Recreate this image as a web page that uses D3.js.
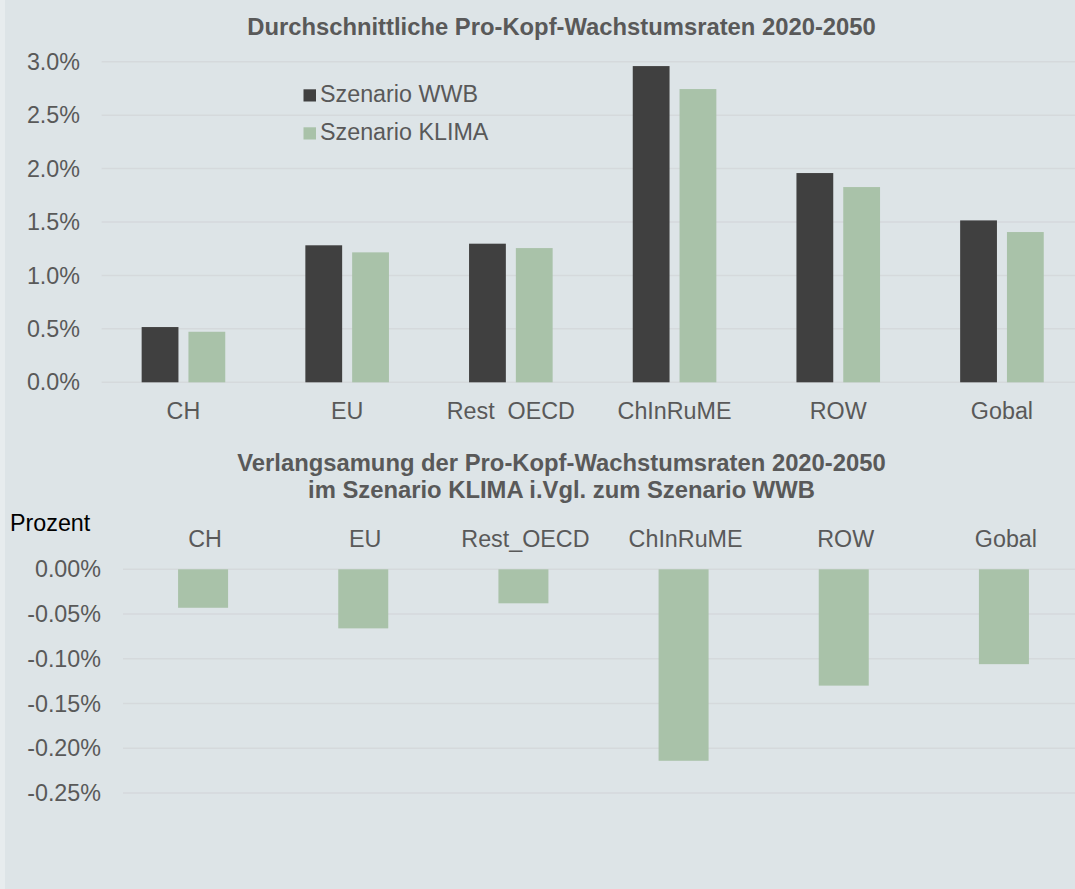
<!DOCTYPE html>
<html>
<head>
<meta charset="utf-8">
<script src="https://cdn.jsdelivr.net/npm/d3@7"></script>
<style>
    body { margin: 0; background: #dde4e7; }
    svg text { font-family: "Liberation Sans", Arial, sans-serif; }
</style>
</head>
<body>
<div id="chartContainer"></div>
<script>
// data
var categories = ['CH', 'EU', 'Rest  OECD', 'ChInRuME', 'ROW', 'Gobal'],
    categoriesBottom = ['CH', 'EU', 'Rest_OECD', 'ChInRuME', 'ROW', 'Gobal'],
    seriesNames = ['Szenario WWB', 'Szenario KLIMA'],
    wwb = [0.517, 1.282, 1.297, 2.959, 1.958, 1.515],
    klima = [0.473, 1.216, 1.256, 2.744, 1.827, 1.406],
    slowdown = [-0.043, -0.066, -0.038, -0.214, -0.130, -0.106],
    topTicks = [0, 0.5, 1.0, 1.5, 2.0, 2.5, 3.0],
    bottomTicks = [0, -0.05, -0.10, -0.15, -0.20, -0.25],
    titleTop = 'Durchschnittliche Pro-Kopf-Wachstumsraten 2020-2050',
    titleBottom = ['Verlangsamung der Pro-Kopf-Wachstumsraten 2020-2050',
                   'im Szenario KLIMA i.Vgl. zum Szenario WWB'],
    yLabelBottom = 'Prozent';

var width = 1075,
    height = 889,
    textColor = '#595959',
    gridColor = '#d5d9dc',
    colors = ['#404040', '#a9c2a9'],
    fontSize = '23.3px',
    titleSize = '23.8px',
    svg = d3.select('#chartContainer').append('svg')
        .attr('width', width)
        .attr('height', height);

svg.append('rect')
    .attr('width', width)
    .attr('height', height)
    .style('fill', '#dde4e7');
svg.append('rect')
    .attr('width', 5)
    .attr('height', height)
    .style('fill', '#e7ecee');

function drawTop() {
    var x = d3.scaleBand().domain(categories).range([101.6, 1083.8]),
        y = d3.scaleLinear().domain([0, 3]).range([382.3, 61.7]),
        barW = 36.8,
        gap = 10,
        g = svg.append('g'),
        rows = categories.map(function (c, i) {
            return { cat: c, vals: [wwb[i], klima[i]] };
        });

    g.selectAll('.grid')
        .data(topTicks)
        .enter()
        .append('line')
        .attr('x1', x.range()[0])
        .attr('x2', width)
        .attr('y1', function (d) { return y(d); })
        .attr('y2', function (d) { return y(d); })
        .style('stroke', gridColor)
        .style('stroke-width', 1.5);

    g.selectAll('.ylab')
        .data(topTicks)
        .enter()
        .append('text')
        .attr('x', 80)
        .attr('y', function (d) { return y(d); })
        .attr('dy', '0.35em')
        .attr('text-anchor', 'end')
        .style('font-size', fontSize)
        .style('fill', textColor)
        .text(function (d) { return d3.format('.1f')(d) + '%'; });

    rows.forEach(function (r) {
        var cx = x(r.cat) + x.bandwidth() / 2;
        r.vals.forEach(function (v, j) {
            var x0 = j === 0 ? cx - gap / 2 - barW : cx + gap / 2;
            g.append('rect')
                .attr('x', x0)
                .attr('width', barW)
                .attr('y', y(v))
                .attr('height', y(0) - y(v))
                .style('fill', colors[j]);
        });
    });

    g.selectAll('.xlab')
        .data(categories)
        .enter()
        .append('text')
        .attr('x', function (d) { return x(d) + x.bandwidth() / 2; })
        .attr('y', 419)
        .attr('text-anchor', 'middle')
        .attr('xml:space', 'preserve')
        .style('white-space', 'pre')
        .style('font-size', fontSize)
        .style('fill', textColor)
        .text(function (d) { return d; });

    svg.append('text')
        .attr('x', 561.5)
        .attr('y', 35)
        .attr('text-anchor', 'middle')
        .style('font-size', titleSize)
        .style('font-weight', 'bold')
        .style('fill', textColor)
        .text(titleTop);

    // legend
    seriesNames.forEach(function (s, i) {
        svg.append('rect')
            .attr('x', 303.5)
            .attr('y', 89.3 + i * 38)
            .attr('width', 12.5)
            .attr('height', 12.2)
            .style('fill', colors[i]);
        svg.append('text')
            .attr('x', 320)
            .attr('y', 102 + i * 38)
            .style('font-size', fontSize)
            .style('fill', textColor)
            .text(s);
    });
}

function drawBottom() {
    var x = d3.scaleBand().domain(categoriesBottom).range([123, 1084]),
        y = d3.scaleLinear().domain([0, -0.25]).range([569.3, 793]),
        barW = 50,
        g = svg.append('g');

    g.selectAll('.grid')
        .data(bottomTicks)
        .enter()
        .append('line')
        .attr('x1', x.range()[0])
        .attr('x2', width)
        .attr('y1', function (d) { return y(d); })
        .attr('y2', function (d) { return y(d); })
        .style('stroke', gridColor)
        .style('stroke-width', 1.5);

    g.selectAll('.ylab')
        .data(bottomTicks)
        .enter()
        .append('text')
        .attr('x', 101)
        .attr('y', function (d) { return y(d); })
        .attr('dy', '0.35em')
        .attr('text-anchor', 'end')
        .style('font-size', fontSize)
        .style('fill', textColor)
        .text(function (d) { return d3.format('.2f')(d).replace('−', '-') + '%'; });

    g.selectAll('.bar')
        .data(slowdown)
        .enter()
        .append('rect')
        .attr('x', function (d, i) { return x(categoriesBottom[i]) + x.bandwidth() / 2 - barW / 2; })
        .attr('width', barW)
        .attr('y', y(0))
        .attr('height', function (d) { return y(d) - y(0); })
        .style('fill', colors[1]);

    g.selectAll('.xlab')
        .data(categoriesBottom)
        .enter()
        .append('text')
        .attr('x', function (d) { return x(d) + x.bandwidth() / 2 + 2; })
        .attr('y', 547)
        .attr('text-anchor', 'middle')
        .style('font-size', fontSize)
        .style('fill', textColor)
        .text(function (d) { return d; });

    // two-line title, spaced so the lines do not touch
    svg.selectAll('.title2')
        .data(titleBottom)
        .enter()
        .append('text')
        .attr('x', 561.5)
        .attr('y', function (d, i) { return 471 + i * 26.5; })
        .attr('text-anchor', 'middle')
        .style('font-size', titleSize)
        .style('font-weight', 'bold')
        .style('fill', textColor)
        .text(function (d) { return d; });

    svg.append('text')
        .attr('x', 10)
        .attr('y', 530.5)
        .style('font-size', fontSize)
        .style('fill', '#000')
        .text(yLabelBottom);
}

drawTop();
drawBottom();
</script>
</body>
</html>
